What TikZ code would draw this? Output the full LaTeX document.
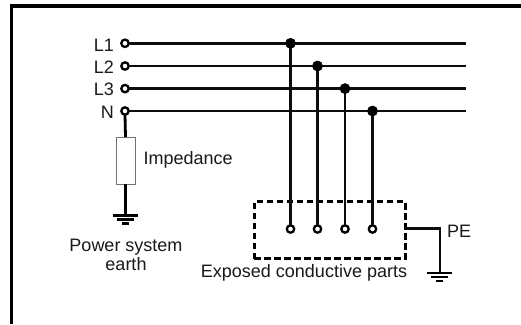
\documentclass[tikz,border=0pt]{standalone}
\usepackage{fontspec}
\setmainfont{Liberation Sans}
\tikzset{
  wire/.style={line width=2.5pt,black!95},
  term/.style={circle,draw=black,fill=white,line width=2.3pt,minimum size=7.4pt,inner sep=0pt,outer sep=0pt},
  joint/.style={circle,fill=black,minimum size=10.5pt,inner sep=0pt,outer sep=0pt},
  lbl/.style={inner sep=0pt,text=black!90,font=\fontsize{18}{19}\selectfont},
  gnd/.style={line width=2.4pt,black},
}
\begin{document}
\begin{tikzpicture}[x=1pt,y=-1pt]
\useasboundingbox (0,0) rectangle (521,324);
\fill[white] (0,0) rectangle (521,324);
% frame
\coordinate (fa) at (11.5,324);
\coordinate (fb) at (11.5,6);
\coordinate (fc) at (521,6);
\draw[line width=3.6pt,miter limit=10] (fa) -- (fb) -- (fc);
% wire ends
\foreach \n/\y in {a/43.3,b/66,c/88.6,d/111}{
  \coordinate (e\n) at (466,\y);
}
\foreach \n/\x/\y in {a/290.5/43.3,b/317.5/66,c/345/88.6,d/372.5/111}{
  \node[joint] (j\n) at (\x,\y) {};
}
% lower terminals and box
\node[draw=black,dash pattern=on 6.5pt off 3.5pt,line width=2.8pt,minimum width=151pt,minimum height=57pt,inner sep=0pt,outer sep=0pt] (box) at (329.7,230) {};
\foreach \n/\x in {a/290.5,b/317.5,c/345,d/372.5}{
  \node[term] (b\n) at (\x,229) {};
}
% impedance
\node[draw=black!55,line width=1pt,fill=white,minimum width=19pt,minimum height=47pt,inner sep=0pt,outer sep=0pt] (imp) at (125.5,160.5) {};
% left terminals
\foreach \n/\y in {a/43.3,b/66,c/88.6,d/111}{
  \node[term] (t\n) at (125,\y) {};
  \draw[wire] (t\n) -- (e\n);
}
\foreach \n in {a,b,c,d}{ \draw[wire] (j\n.center) -- (b\n.north); }
\foreach \n/\x/\y in {a/290.5/43.3,b/317.5/66,c/345/88.6,d/372.5/111}{
  \node[joint] at (\x,\y) {};
}
% neutral earth
\coordinate (g1) at (125.5,215);
\draw[line width=2.8pt] (td.south) -- (imp.north);
\draw[line width=2.8pt] (imp.south) -- (g1);
\draw[gnd] (113,215.3) -- (138,215.3) (117,219.5) -- (134,219.5) (122,223.5) -- (129,223.5);
% PE
\coordinate (pe1) at (440,228.5);
\coordinate (g2) at (440,273);
\draw[wire] (405,228.5) -- (pe1) -- (g2);
\draw[gnd] (427,273) -- (452,273) (431,277) -- (448,277) (436,281) -- (443,281);
% labels
\node[lbl,anchor=east] at (114,45) {L1};
\node[lbl,anchor=east] at (114,67) {L2};
\node[lbl,anchor=east] at (114,89) {L3};
\node[lbl,anchor=east] at (114,112) {N};
\node[lbl,anchor=west] (li) at (143.5,160) {Impedance};
\node[lbl,align=center] (lp) at (126,254.5) {Power system\\earth};
\node[lbl] (lx) at (304,273) {Exposed conductive parts};
\node[lbl,anchor=west] (lq) at (447,231) {PE};
\end{tikzpicture}
\end{document}
